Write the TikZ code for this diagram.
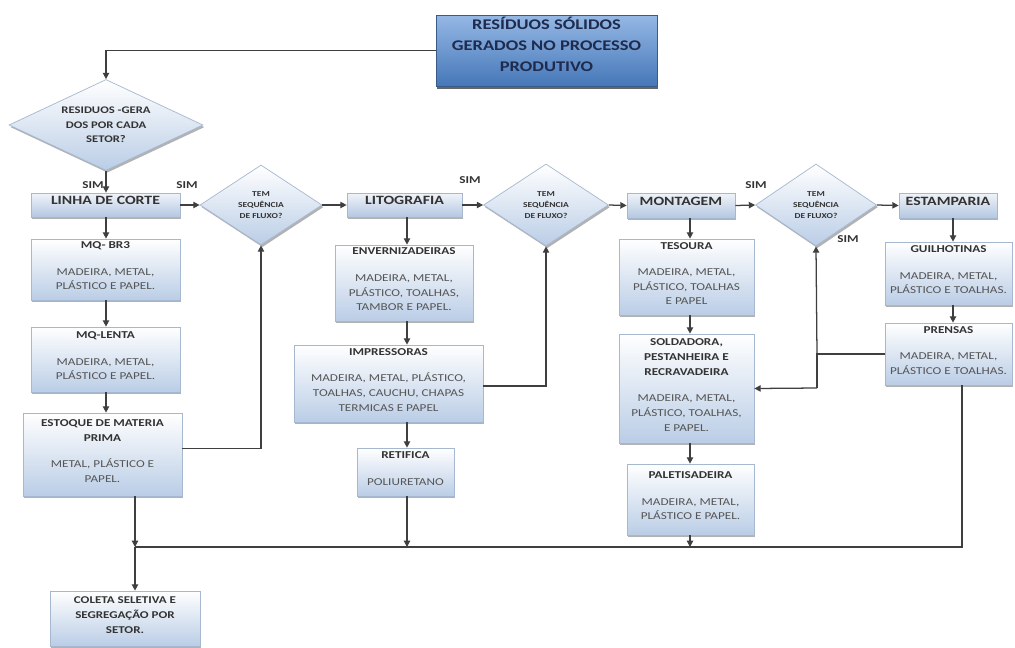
\documentclass[tikz,border=0pt]{standalone}
\usepackage{fontspec}
\setmainfont{Carlito}[FakeStretch=1.25]
\usetikzlibrary{shapes.geometric,arrows.meta,shadows,fit}
\definecolor{linec}{HTML}{3F3F3F}
\definecolor{bordc}{HTML}{A5B8D0}
\definecolor{boxbot}{HTML}{BACDE6}
\definecolor{hdrtop}{HTML}{F0F4FA}
\definecolor{hdrbot}{HTML}{B4C7E1}
\definecolor{txtc}{HTML}{333333}
\definecolor{bodyc}{HTML}{555555}
\definecolor{titletop}{HTML}{95B8E5}
\definecolor{titlebot}{HTML}{4677B8}
\definecolor{titletxt}{HTML}{1E2B4D}
\definecolor{titlebord}{HTML}{3A5A88}
\newcommand\mytitlefont{\fontsize{10.5}{15}\bfseries\selectfont}
\newcommand\myhdrfont{\fontsize{9}{11}\bfseries\selectfont}
\newcommand\mybodyfont{\fontsize{7.5}{10.6}\selectfont}
\newcommand\mydiafont{\fontsize{5.4}{8}\bfseries\selectfont}
\newcommand\mydiaonefont{\fontsize{7.2}{10.3}\bfseries\selectfont}
\newcommand\mysimfont{\fontsize{7.5}{9}\bfseries\selectfont}
\newcommand\boxttl[1]{{\color{txtc}\bfseries #1}}
\tikzset{
  shad/.style={drop shadow={shadow xshift=1pt,shadow yshift=-1.5pt,opacity=0.3,fill=black}},
  titlebox/.style={draw=titlebord,line width=0.6pt,top color=titletop,bottom color=titlebot,
    inner sep=0pt,align=center,font=\mytitlefont,text=titletxt,
    drop shadow={shadow xshift=1pt,shadow yshift=-2pt,opacity=0.6,fill=black}},
  hdr/.style={draw=bordc,line width=0.5pt,top color=hdrtop,bottom color=hdrbot,
    inner sep=0pt,font=\myhdrfont,text=txtc,shad},
  cbox/.style={draw=bordc,line width=0.5pt,top color=white,bottom color=boxbot,
    inner sep=0pt,align=center,font=\mybodyfont,text=bodyc,shad},
  dia/.style={diamond,draw=bordc,line width=0.5pt,top color=white,bottom color=boxbot,
    inner sep=0pt,align=center,font=\mydiafont,text=txtc,shad},
  ln/.style={draw=linec,line width=0.9pt},
  arr/.style={ln,-{Triangle[length=4.5pt,width=4.5pt]}},
  simlbl/.style={font=\mysimfont,text=txtc,inner sep=0pt},
}
\begin{document}
\begin{tikzpicture}[x=0.025cm,y=-0.025cm]
\useasboundingbox[fill=white] (0,0) rectangle (1015,647);

% title
\node[titlebox,fit={(436,15) (657,86)}] (title) {RESÍDUOS SÓLIDOS\\GERADOS NO PROCESSO\\PRODUTIVO};

% diamonds
\node[dia,font=\mydiaonefont,minimum width=4.85cm,minimum height=2.275cm,shape aspect=2.13] (d1) at (106,125) {RESIDUOS -GERA\\DOS POR CADA\\SETOR?};
\node[dia,minimum width=3.05cm,minimum height=2.0cm,shape aspect=1.5] (d2) at (261,205) {TEM\\SEQUÊNCIA\\DE FLUXO?};
\node[dia,minimum width=3.125cm,minimum height=2.05cm,shape aspect=1.5] (d3) at (546,205) {TEM\\SEQUÊNCIA\\DE FLUXO?};
\node[dia,minimum width=3.025cm,minimum height=2.05cm,shape aspect=1.5] (d4) at (816,205) {TEM\\SEQUÊNCIA\\DE FLUXO?};

% headers
\node[hdr,fit={(31,193) (180,217)}] (linha) {LINHA DE CORTE};
\node[hdr,fit={(347,193) (462,217)}] (lito) {LITOGRAFIA};
\node[hdr,fit={(627,193) (735,218)}] (mont) {MONTAGEM};
\node[hdr,fit={(899,193) (997,218)}] (estamp) {ESTAMPARIA};

% column 1
\node[cbox,fit={(31,239) (180,300)}] (mqbr3) {\boxttl{MQ- BR3}\\[8pt]MADEIRA, METAL,\\PLÁSTICO E PAPEL.};
\node[cbox,fit={(31,327) (180,392)}] (mqlenta) {\boxttl{MQ-LENTA}\\[8pt]MADEIRA, METAL,\\PLÁSTICO E PAPEL.};
\node[cbox,fit={(23,413) (182,496)}] (estoque) {\boxttl{ESTOQUE DE MATERIA}\\\boxttl{PRIMA}\\[8pt]METAL, PLÁSTICO E\\PAPEL.};
\node[cbox,fit={(50,591) (200,646)},font=\fontsize{7.4}{10.6}\bfseries\selectfont,text=txtc] (coleta) {COLETA SELETIVA E\\SEGREGAÇÃO POR\\SETOR.};

% column 2
\node[cbox,fit={(335,245) (473,321)}] (env) {\boxttl{ENVERNIZADEIRAS}\\[8pt]MADEIRA, METAL,\\PLÁSTICO, TOALHAS,\\TAMBOR E PAPEL.};
\node[cbox,fit={(294,345) (483,422)}] (imp) {\boxttl{IMPRESSORAS}\\[8pt]MADEIRA, METAL, PLÁSTICO,\\TOALHAS, CAUCHU, CHAPAS\\TERMICAS E PAPEL};
\node[cbox,fit={(357,448) (454,496)}] (ret) {\boxttl{RETIFICA}\\[8pt]POLIURETANO};

% column 3
\node[cbox,fit={(619,239) (754,315)}] (tes) {\boxttl{TESOURA}\\[8pt]MADEIRA, METAL,\\PLÁSTICO, TOALHAS\\E PAPEL};
\node[cbox,fit={(619,334) (754,443)}] (sold) {\boxttl{SOLDADORA,}\\\boxttl{PESTANHEIRA E}\\\boxttl{RECRAVADEIRA}\\[8pt]MADEIRA, METAL,\\PLÁSTICO, TOALHAS,\\E PAPEL.};
\node[cbox,fit={(627,464) (754,535)}] (palet) {\boxttl{PALETISADEIRA}\\[8pt]MADEIRA, METAL,\\PLÁSTICO E PAPEL.};

% column 4
\node[cbox,fit={(885,242) (1012,305)}] (guil) {\boxttl{GUILHOTINAS}\\[8pt]MADEIRA, METAL,\\PLÁSTICO E TOALHAS.};
\node[cbox,fit={(885,323) (1012,385)}] (prensas) {\boxttl{PRENSAS}\\[8pt]MADEIRA, METAL,\\PLÁSTICO E TOALHAS.};

% helper coordinates
\coordinate (x1) at (106,0);
\coordinate (x2) at (407,0);
\coordinate (x3) at (690,0);
\coordinate (x4) at (953,0);
\coordinate (xb) at (135,0);
\coordinate (xr) at (962,0);
\coordinate (jb) at (135,547);
\coordinate (j1) at (817,354);
\coordinate (j2) at (817,388);

% main flow
\draw[arr] (title.west) -| (d1.north);
\draw[arr] (d1.south) -- (x1 |- linha.north);
\draw[arr] (linha.east) -- (d2.west);
\draw[arr] (d2.east) -- (lito.west);
\draw[arr] (lito.east) -- (d3.west);
\draw[arr] (d3.east) -- (mont.west);
\draw[arr] (mont.east) -- (d4.west);
\draw[arr] (d4.east) -- (estamp.west);

% column 1
\draw[arr] (x1 |- linha.south) -- (x1 |- mqbr3.north);
\draw[arr] (x1 |- mqbr3.south) -- (x1 |- mqlenta.north);
\draw[arr] (x1 |- mqlenta.south) -- (x1 |- estoque.north);
\draw[arr] ([yshift=0.15cm]estoque.east) -| (d2.south);
\draw[arr] (xb |- estoque.south) -- (jb);
\draw[arr] (jb) -- (xb |- coleta.north);

% column 2
\draw[arr] (x2 |- lito.south) -- (x2 |- env.north);
\draw[arr] (x2 |- env.south) -- (x2 |- imp.north);
\draw[arr] (x2 |- imp.south) -- (x2 |- ret.north);
\draw[arr] ([yshift=-0.06cm]imp.east) -| (d3.south);
\draw[arr] (x2 |- ret.south) -- (x2 |- jb);

% column 3
\draw[arr] (x3 |- mont.south) -- (x3 |- tes.north);
\draw[arr] (x3 |- tes.south) -- (x3 |- sold.north);
\draw[arr] (x3 |- sold.south) -- (x3 |- palet.north);
\draw[arr] (x3 |- palet.south) -- (x3 |- jb);

% column 4
\draw[arr] (x4 |- estamp.south) -- (x4 |- guil.north);
\draw[arr] (x4 |- guil.south) -- (x4 |- prensas.north);
\draw[ln] (prensas.west) -- (j1) -- (j2);
\draw[arr] (j1) -- (d4.south);
\draw[arr] (j2) -- (sold.east);
\draw[ln] (xr |- prensas.south) |- (jb);

% labels
\node[simlbl] (s1) at (93,185) {SIM};
\node[simlbl] (s2) at (187,185) {SIM};
\node[simlbl] (s3) at (470,180) {SIM};
\node[simlbl] (s4) at (756,185) {SIM};
\node[simlbl] (s5) at (848,239) {SIM};
\end{tikzpicture}
\end{document}
